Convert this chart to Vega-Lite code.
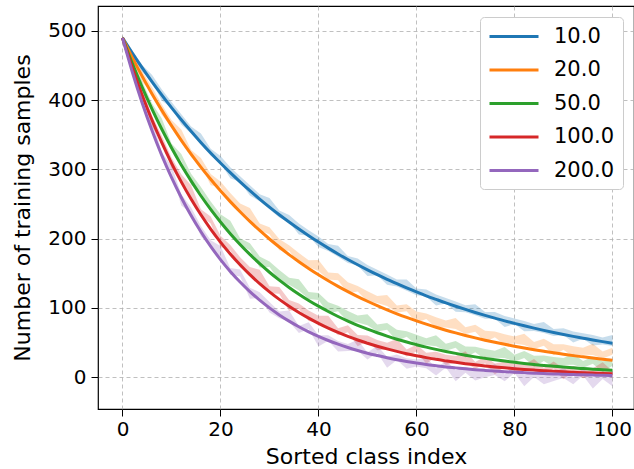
{
"$schema": "https://vega.github.io/schema/vega-lite/v6.json",
"width": 536, "height": 403,
"autosize": {"type": "none"},
"padding": {"left": 98, "top": 6, "right": 0, "bottom": 60},
"config": {
  "font": "DejaVu Sans",
  "view": {"stroke": "#000", "strokeWidth": 1.2},
  "axis": {"grid": true, "gridDash": [4, 3], "gridColor": "#b0b0b0", "gridWidth": 0.8, "domain": false, "tickColor": "#000", "tickSize": 7, "labelFontSize": 20, "labelColor": "#000", "titleFontSize": 22, "titleFontWeight": "normal", "titleColor": "#000"}
},
"data": {"values": [
{"s":"10.0","x":0,"y":490,"lo":487,"hi":493},
{"s":"10.0","x":2,"y":467.9,"lo":463.9,"hi":471.9},
{"s":"10.0","x":4,"y":446.9,"lo":440.9,"hi":450.9},
{"s":"10.0","x":6,"y":426.8,"lo":426.8,"hi":436.8},
{"s":"10.0","x":8,"y":407.6,"lo":399.6,"hi":415.6},
{"s":"10.0","x":10,"y":389.2,"lo":389.2,"hi":397.2},
{"s":"10.0","x":12,"y":371.7,"lo":364.7,"hi":379.7},
{"s":"10.0","x":14,"y":355.0,"lo":352,"hi":362},
{"s":"10.0","x":16,"y":339.0,"lo":336,"hi":352},
{"s":"10.0","x":18,"y":323.7,"lo":319.7,"hi":329.7},
{"s":"10.0","x":20,"y":309.2,"lo":309.2,"hi":319.2},
{"s":"10.0","x":22,"y":295.3,"lo":287.3,"hi":303.3},
{"s":"10.0","x":24,"y":282.0,"lo":282,"hi":290},
{"s":"10.0","x":26,"y":269.3,"lo":262.3,"hi":277.3},
{"s":"10.0","x":28,"y":257.2,"lo":254.2,"hi":264.2},
{"s":"10.0","x":30,"y":245.6,"lo":242.6,"hi":258.6},
{"s":"10.0","x":32,"y":234.5,"lo":230.5,"hi":240.5},
{"s":"10.0","x":34,"y":224.0,"lo":224,"hi":234},
{"s":"10.0","x":36,"y":213.9,"lo":205.9,"hi":221.9},
{"s":"10.0","x":38,"y":204.3,"lo":204.3,"hi":212.3},
{"s":"10.0","x":40,"y":195.1,"lo":188.1,"hi":203.1},
{"s":"10.0","x":42,"y":186.3,"lo":182.3,"hi":192.3},
{"s":"10.0","x":44,"y":177.9,"lo":173.9,"hi":189.9},
{"s":"10.0","x":46,"y":169.9,"lo":164.9,"hi":174.9},
{"s":"10.0","x":48,"y":162.3,"lo":161.3,"hi":171.3},
{"s":"10.0","x":50,"y":155.0,"lo":146,"hi":162},
{"s":"10.0","x":52,"y":148.0,"lo":147,"hi":155},
{"s":"10.0","x":54,"y":141.3,"lo":133.3,"hi":148.3},
{"s":"10.0","x":56,"y":135.0,"lo":131,"hi":141},
{"s":"10.0","x":58,"y":128.9,"lo":124.9,"hi":140.9},
{"s":"10.0","x":60,"y":123.1,"lo":118.1,"hi":128.1},
{"s":"10.0","x":62,"y":117.5,"lo":116.5,"hi":126.5},
{"s":"10.0","x":64,"y":112.3,"lo":103.3,"hi":119.3},
{"s":"10.0","x":66,"y":107.2,"lo":106.2,"hi":114.2},
{"s":"10.0","x":68,"y":102.4,"lo":94.4,"hi":109.4},
{"s":"10.0","x":70,"y":97.8,"lo":93.8,"hi":103.8},
{"s":"10.0","x":72,"y":93.4,"lo":89.4,"hi":105.4},
{"s":"10.0","x":74,"y":89.2,"lo":84.2,"hi":94.2},
{"s":"10.0","x":76,"y":85.2,"lo":84.2,"hi":94.2},
{"s":"10.0","x":78,"y":81.3,"lo":72.3,"hi":88.3},
{"s":"10.0","x":80,"y":77.7,"lo":76.7,"hi":84.7},
{"s":"10.0","x":82,"y":74.2,"lo":66.2,"hi":81.2},
{"s":"10.0","x":84,"y":70.8,"lo":66.8,"hi":76.8},
{"s":"10.0","x":86,"y":67.6,"lo":63.6,"hi":79.6},
{"s":"10.0","x":88,"y":64.6,"lo":59.6,"hi":69.6},
{"s":"10.0","x":90,"y":61.7,"lo":60.7,"hi":70.7},
{"s":"10.0","x":92,"y":58.9,"lo":49.9,"hi":65.9},
{"s":"10.0","x":94,"y":56.3,"lo":55.3,"hi":63.3},
{"s":"10.0","x":96,"y":53.7,"lo":45.7,"hi":60.7},
{"s":"10.0","x":98,"y":51.3,"lo":47.3,"hi":57.3},
{"s":"10.0","x":100,"y":49.0,"lo":45,"hi":61},
{"s":"20.0","x":0,"y":490,"lo":487,"hi":493},
{"s":"20.0","x":2,"y":461.5,"lo":457.5,"hi":465.5},
{"s":"20.0","x":4,"y":434.7,"lo":426.2,"hi":442.2},
{"s":"20.0","x":6,"y":409.4,"lo":410.9,"hi":418.9},
{"s":"20.0","x":8,"y":385.6,"lo":379.1,"hi":394.1},
{"s":"20.0","x":10,"y":363.2,"lo":361.2,"hi":371.2},
{"s":"20.0","x":12,"y":342.0,"lo":341.5,"hi":357.5},
{"s":"20.0","x":14,"y":322.1,"lo":318.1,"hi":328.1},
{"s":"20.0","x":16,"y":303.4,"lo":306.4,"hi":316.4},
{"s":"20.0","x":18,"y":285.8,"lo":277.3,"hi":293.3},
{"s":"20.0","x":20,"y":269.1,"lo":274.6,"hi":282.6},
{"s":"20.0","x":22,"y":253.5,"lo":251,"hi":266},
{"s":"20.0","x":24,"y":238.8,"lo":240.8,"hi":250.8},
{"s":"20.0","x":26,"y":224.9,"lo":228.4,"hi":244.4},
{"s":"20.0","x":28,"y":211.8,"lo":211.8,"hi":221.8},
{"s":"20.0","x":30,"y":199.5,"lo":206.5,"hi":216.5},
{"s":"20.0","x":32,"y":187.9,"lo":183.4,"hi":199.4},
{"s":"20.0","x":34,"y":176.9,"lo":182.4,"hi":190.4},
{"s":"20.0","x":36,"y":166.7,"lo":164.2,"hi":179.2},
{"s":"20.0","x":38,"y":157.0,"lo":159,"hi":169},
{"s":"20.0","x":40,"y":147.8,"lo":153.3,"hi":169.3},
{"s":"20.0","x":42,"y":139.2,"lo":141.2,"hi":151.2},
{"s":"20.0","x":44,"y":131.1,"lo":140.1,"hi":150.1},
{"s":"20.0","x":46,"y":123.5,"lo":121,"hi":137},
{"s":"20.0","x":48,"y":116.3,"lo":123.8,"hi":131.8},
{"s":"20.0","x":50,"y":109.6,"lo":109.1,"hi":124.1},
{"s":"20.0","x":52,"y":103.2,"lo":107.2,"hi":117.2},
{"s":"20.0","x":54,"y":97.2,"lo":102.7,"hi":118.7},
{"s":"20.0","x":56,"y":91.5,"lo":93.5,"hi":103.5},
{"s":"20.0","x":58,"y":86.2,"lo":95.2,"hi":105.2},
{"s":"20.0","x":60,"y":81.2,"lo":78.7,"hi":94.7},
{"s":"20.0","x":62,"y":76.5,"lo":84,"hi":92},
{"s":"20.0","x":64,"y":72.0,"lo":71.5,"hi":86.5},
{"s":"20.0","x":66,"y":67.8,"lo":71.8,"hi":81.8},
{"s":"20.0","x":68,"y":63.9,"lo":69.4,"hi":85.4},
{"s":"20.0","x":70,"y":60.2,"lo":62.2,"hi":72.2},
{"s":"20.0","x":72,"y":56.7,"lo":65.7,"hi":75.7},
{"s":"20.0","x":74,"y":53.4,"lo":50.9,"hi":66.9},
{"s":"20.0","x":76,"y":50.3,"lo":57.8,"hi":65.8},
{"s":"20.0","x":78,"y":47.4,"lo":46.9,"hi":61.9},
{"s":"20.0","x":80,"y":44.6,"lo":48.6,"hi":58.6},
{"s":"20.0","x":82,"y":42.0,"lo":46.5,"hi":62.5},
{"s":"20.0","x":84,"y":39.6,"lo":40.6,"hi":50.6},
{"s":"20.0","x":86,"y":37.3,"lo":45.3,"hi":55.3},
{"s":"20.0","x":88,"y":35.1,"lo":31.6,"hi":47.6},
{"s":"20.0","x":90,"y":33.1,"lo":39.6,"hi":47.6},
{"s":"20.0","x":92,"y":31.1,"lo":29.6,"hi":44.6},
{"s":"20.0","x":94,"y":29.3,"lo":32.3,"hi":42.3},
{"s":"20.0","x":96,"y":27.6,"lo":32.1,"hi":48.1},
{"s":"20.0","x":98,"y":26.0,"lo":27,"hi":37},
{"s":"20.0","x":100,"y":24.5,"lo":32.5,"hi":42.5},
{"s":"50.0","x":0,"y":490,"lo":487,"hi":493},
{"s":"50.0","x":2,"y":453.1,"lo":449.1,"hi":457.1},
{"s":"50.0","x":4,"y":419.0,"lo":412.5,"hi":427.5},
{"s":"50.0","x":6,"y":387.5,"lo":385.5,"hi":395.5},
{"s":"50.0","x":8,"y":358.3,"lo":357.8,"hi":373.8},
{"s":"50.0","x":10,"y":331.4,"lo":327.4,"hi":337.4},
{"s":"50.0","x":12,"y":306.4,"lo":312.4,"hi":322.4},
{"s":"50.0","x":14,"y":283.4,"lo":277.9,"hi":293.9},
{"s":"50.0","x":16,"y":262.0,"lo":266.5,"hi":274.5},
{"s":"50.0","x":18,"y":242.3,"lo":238.8,"hi":253.8},
{"s":"50.0","x":20,"y":224.1,"lo":225.1,"hi":235.1},
{"s":"50.0","x":22,"y":207.2,"lo":209.7,"hi":225.7},
{"s":"50.0","x":24,"y":191.6,"lo":190.6,"hi":200.6},
{"s":"50.0","x":26,"y":177.2,"lo":183.2,"hi":193.2},
{"s":"50.0","x":28,"y":163.9,"lo":158.4,"hi":174.4},
{"s":"50.0","x":30,"y":151.5,"lo":159,"hi":167},
{"s":"50.0","x":32,"y":140.1,"lo":139.6,"hi":154.6},
{"s":"50.0","x":34,"y":129.6,"lo":133.6,"hi":143.6},
{"s":"50.0","x":36,"y":119.8,"lo":125.3,"hi":141.3},
{"s":"50.0","x":38,"y":110.8,"lo":112.8,"hi":122.8},
{"s":"50.0","x":40,"y":102.5,"lo":111.5,"hi":121.5},
{"s":"50.0","x":42,"y":94.8,"lo":92.3,"hi":108.3},
{"s":"50.0","x":44,"y":87.6,"lo":95.1,"hi":103.1},
{"s":"50.0","x":46,"y":81.0,"lo":80.5,"hi":95.5},
{"s":"50.0","x":48,"y":74.9,"lo":78.9,"hi":88.9},
{"s":"50.0","x":50,"y":69.3,"lo":74.8,"hi":90.8},
{"s":"50.0","x":52,"y":64.1,"lo":66.1,"hi":76.1},
{"s":"50.0","x":54,"y":59.3,"lo":68.3,"hi":78.3},
{"s":"50.0","x":56,"y":54.8,"lo":52.3,"hi":68.3},
{"s":"50.0","x":58,"y":50.7,"lo":58.2,"hi":66.2},
{"s":"50.0","x":60,"y":46.9,"lo":46.4,"hi":61.4},
{"s":"50.0","x":62,"y":43.3,"lo":46.3,"hi":56.3},
{"s":"50.0","x":64,"y":40.1,"lo":44.6,"hi":60.6},
{"s":"50.0","x":66,"y":37.1,"lo":38.1,"hi":48.1},
{"s":"50.0","x":68,"y":34.3,"lo":42.3,"hi":52.3},
{"s":"50.0","x":70,"y":31.7,"lo":28.2,"hi":44.2},
{"s":"50.0","x":72,"y":29.3,"lo":35.8,"hi":43.8},
{"s":"50.0","x":74,"y":27.1,"lo":25.6,"hi":40.6},
{"s":"50.0","x":76,"y":25.1,"lo":28.1,"hi":38.1},
{"s":"50.0","x":78,"y":23.2,"lo":27.7,"hi":43.7},
{"s":"50.0","x":80,"y":21.4,"lo":22.4,"hi":32.4},
{"s":"50.0","x":82,"y":19.8,"lo":27.8,"hi":37.8},
{"s":"50.0","x":84,"y":18.3,"lo":14.8,"hi":30.8},
{"s":"50.0","x":86,"y":16.9,"lo":23.4,"hi":31.4},
{"s":"50.0","x":88,"y":15.7,"lo":14.2,"hi":29.2},
{"s":"50.0","x":90,"y":14.5,"lo":17.5,"hi":27.5},
{"s":"50.0","x":92,"y":13.4,"lo":17.9,"hi":33.9},
{"s":"50.0","x":94,"y":12.4,"lo":13.4,"hi":23.4},
{"s":"50.0","x":96,"y":11.5,"lo":19.5,"hi":29.5},
{"s":"50.0","x":98,"y":10.6,"lo":7.1,"hi":23.1},
{"s":"50.0","x":100,"y":9.8,"lo":16.3,"hi":24.3},
{"s":"100.0","x":0,"y":490,"lo":487,"hi":493},
{"s":"100.0","x":2,"y":446.9,"lo":442.9,"hi":450.9},
{"s":"100.0","x":4,"y":407.6,"lo":402.6,"hi":418.6},
{"s":"100.0","x":6,"y":371.7,"lo":361.7,"hi":377.7},
{"s":"100.0","x":8,"y":339.0,"lo":341,"hi":349},
{"s":"100.0","x":10,"y":309.2,"lo":302.2,"hi":317.2},
{"s":"100.0","x":12,"y":282.0,"lo":283,"hi":293},
{"s":"100.0","x":14,"y":257.2,"lo":261.2,"hi":277.2},
{"s":"100.0","x":16,"y":234.5,"lo":232.5,"hi":242.5},
{"s":"100.0","x":18,"y":213.9,"lo":221.9,"hi":231.9},
{"s":"100.0","x":20,"y":195.1,"lo":188.1,"hi":204.1},
{"s":"100.0","x":22,"y":177.9,"lo":182.9,"hi":190.9},
{"s":"100.0","x":24,"y":162.3,"lo":158.3,"hi":173.3},
{"s":"100.0","x":26,"y":148.0,"lo":149,"hi":159},
{"s":"100.0","x":28,"y":135.0,"lo":139,"hi":155},
{"s":"100.0","x":30,"y":123.1,"lo":121.1,"hi":131.1},
{"s":"100.0","x":32,"y":112.3,"lo":120.3,"hi":130.3},
{"s":"100.0","x":34,"y":102.4,"lo":95.4,"hi":111.4},
{"s":"100.0","x":36,"y":93.4,"lo":98.4,"hi":106.4},
{"s":"100.0","x":38,"y":85.2,"lo":81.2,"hi":96.2},
{"s":"100.0","x":40,"y":77.7,"lo":78.7,"hi":88.7},
{"s":"100.0","x":42,"y":70.8,"lo":72.8,"hi":88.8},
{"s":"100.0","x":44,"y":64.6,"lo":60.6,"hi":70.6},
{"s":"100.0","x":46,"y":58.9,"lo":64.9,"hi":74.9},
{"s":"100.0","x":48,"y":53.7,"lo":44.7,"hi":60.7},
{"s":"100.0","x":50,"y":49.0,"lo":52,"hi":60},
{"s":"100.0","x":52,"y":44.7,"lo":38.7,"hi":53.7},
{"s":"100.0","x":54,"y":40.8,"lo":39.8,"hi":49.8},
{"s":"100.0","x":56,"y":37.2,"lo":39.2,"hi":55.2},
{"s":"100.0","x":58,"y":33.9,"lo":29.9,"hi":39.9},
{"s":"100.0","x":60,"y":30.9,"lo":36.9,"hi":46.9},
{"s":"100.0","x":62,"y":28.2,"lo":19.2,"hi":35.2},
{"s":"100.0","x":64,"y":25.7,"lo":28.7,"hi":36.7},
{"s":"100.0","x":66,"y":23.5,"lo":17.5,"hi":32.5},
{"s":"100.0","x":68,"y":21.4,"lo":20.4,"hi":30.4},
{"s":"100.0","x":70,"y":19.5,"lo":21.5,"hi":37.5},
{"s":"100.0","x":72,"y":17.8,"lo":11.8,"hi":21.8},
{"s":"100.0","x":74,"y":16.2,"lo":20.2,"hi":30.2},
{"s":"100.0","x":76,"y":14.8,"lo":3.8,"hi":19.8},
{"s":"100.0","x":78,"y":13.5,"lo":14.5,"hi":22.5},
{"s":"100.0","x":80,"y":12.3,"lo":4.3,"hi":19.3},
{"s":"100.0","x":82,"y":11.2,"lo":8.2,"hi":18.2},
{"s":"100.0","x":84,"y":10.2,"lo":10.2,"hi":26.2},
{"s":"100.0","x":86,"y":9.3,"lo":3.3,"hi":13.3},
{"s":"100.0","x":88,"y":8.5,"lo":12.5,"hi":22.5},
{"s":"100.0","x":90,"y":7.8,"lo":-3.2,"hi":12.8},
{"s":"100.0","x":92,"y":7.1,"lo":8.1,"hi":16.1},
{"s":"100.0","x":94,"y":6.5,"lo":-1.5,"hi":13.5},
{"s":"100.0","x":96,"y":5.9,"lo":2.9,"hi":12.9},
{"s":"100.0","x":98,"y":5.4,"lo":5.4,"hi":21.4},
{"s":"100.0","x":100,"y":4.9,"lo":-1.1,"hi":8.9},
{"s":"200.0","x":0,"y":490,"lo":487,"hi":493},
{"s":"200.0","x":2,"y":440.7,"lo":436.7,"hi":444.7},
{"s":"200.0","x":4,"y":396.4,"lo":394.4,"hi":404.4},
{"s":"200.0","x":6,"y":356.6,"lo":359.1,"hi":375.1},
{"s":"200.0","x":8,"y":320.7,"lo":314.7,"hi":324.7},
{"s":"200.0","x":10,"y":288.5,"lo":295.5,"hi":305.5},
{"s":"200.0","x":12,"y":259.5,"lo":248,"hi":264},
{"s":"200.0","x":14,"y":233.4,"lo":236.9,"hi":244.9},
{"s":"200.0","x":16,"y":209.9,"lo":203.4,"hi":218.4},
{"s":"200.0","x":18,"y":188.8,"lo":187.8,"hi":197.8},
{"s":"200.0","x":20,"y":169.8,"lo":173.3,"hi":189.3},
{"s":"200.0","x":22,"y":152.7,"lo":147.7,"hi":157.7},
{"s":"200.0","x":24,"y":137.4,"lo":145.4,"hi":155.4},
{"s":"200.0","x":26,"y":123.6,"lo":113.1,"hi":129.1},
{"s":"200.0","x":28,"y":111.2,"lo":114.7,"hi":122.7},
{"s":"200.0","x":30,"y":100.0,"lo":93.5,"hi":108.5},
{"s":"200.0","x":32,"y":89.9,"lo":84.9,"hi":94.9},
{"s":"200.0","x":34,"y":80.9,"lo":80.4,"hi":96.4},
{"s":"200.0","x":36,"y":72.8,"lo":63.8,"hi":73.8},
{"s":"200.0","x":38,"y":65.4,"lo":69.4,"hi":79.4},
{"s":"200.0","x":40,"y":58.9,"lo":44.4,"hi":60.4},
{"s":"200.0","x":42,"y":52.9,"lo":52.4,"hi":60.4},
{"s":"200.0","x":44,"y":47.6,"lo":37.1,"hi":52.1},
{"s":"200.0","x":46,"y":42.8,"lo":37.8,"hi":47.8},
{"s":"200.0","x":48,"y":38.5,"lo":38,"hi":54},
{"s":"200.0","x":50,"y":34.6,"lo":25.6,"hi":35.6},
{"s":"200.0","x":52,"y":31.2,"lo":35.2,"hi":45.2},
{"s":"200.0","x":54,"y":28.0,"lo":13.5,"hi":29.5},
{"s":"200.0","x":56,"y":25.2,"lo":24.7,"hi":32.7},
{"s":"200.0","x":58,"y":22.7,"lo":12.2,"hi":27.2},
{"s":"200.0","x":60,"y":20.4,"lo":15.4,"hi":25.4},
{"s":"200.0","x":62,"y":18.3,"lo":12.8,"hi":28.8},
{"s":"200.0","x":64,"y":16.5,"lo":2.5,"hi":12.5},
{"s":"200.0","x":66,"y":14.8,"lo":13.8,"hi":23.8},
{"s":"200.0","x":68,"y":13.4,"lo":-6.1,"hi":9.9},
{"s":"200.0","x":70,"y":12.0,"lo":6.5,"hi":14.5},
{"s":"200.0","x":72,"y":10.8,"lo":-4.7,"hi":10.3},
{"s":"200.0","x":74,"y":9.7,"lo":-0.3,"hi":9.7},
{"s":"200.0","x":76,"y":8.7,"lo":3.2,"hi":19.2},
{"s":"200.0","x":78,"y":7.9,"lo":-6.1,"hi":3.9},
{"s":"200.0","x":80,"y":7.1,"lo":6.1,"hi":16.1},
{"s":"200.0","x":82,"y":6.4,"lo":-13.1,"hi":2.9},
{"s":"200.0","x":84,"y":5.7,"lo":0.2,"hi":8.2},
{"s":"200.0","x":86,"y":5.1,"lo":-10.4,"hi":4.6},
{"s":"200.0","x":88,"y":4.6,"lo":-5.4,"hi":4.6},
{"s":"200.0","x":90,"y":4.2,"lo":-1.3,"hi":14.7},
{"s":"200.0","x":92,"y":3.7,"lo":-10.3,"hi":-0.3},
{"s":"200.0","x":94,"y":3.4,"lo":2.4,"hi":12.4},
{"s":"200.0","x":96,"y":3.0,"lo":-16.5,"hi":-0.5},
{"s":"200.0","x":98,"y":2.7,"lo":-2.8,"hi":5.2},
{"s":"200.0","x":100,"y":2.5,"lo":-13,"hi":2}
]},
"encoding": {
  "x": {"field": "x", "type": "quantitative", "scale": {"domain": [-5, 104.4], "nice": false, "zero": false}, "axis": {"values": [0, 20, 40, 60, 80, 100], "title": "Sorted class index", "titlePadding": 7, "labelPadding": 3}},
  "color": {"field": "s", "type": "nominal", "scale": {"domain": ["10.0", "20.0", "50.0", "100.0", "200.0"], "range": ["#1f77b4", "#ff7f0e", "#2ca02c", "#d62728", "#9467bd"]},
    "legend": {"title": null, "orient": "none", "legendX": 382, "legendY": 11, "padding": 8, "strokeColor": "#cccccc", "fillColor": "#ffffff", "cornerRadius": 4, "symbolType": "M-1,0H3.9", "symbolSize": 400, "symbolStrokeWidth": 3, "symbolOpacity": 1, "labelFontSize": 21, "labelColor": "#000", "labelOffset": 43, "rowPadding": 11.5}}
},
"layer": [
  {"mark": {"type": "area", "opacity": 0.25, "interpolate": "linear"},
   "encoding": {
     "y": {"field": "lo", "type": "quantitative", "scale": {"domain": [-46, 536], "nice": false, "zero": false}, "axis": {"values": [0, 100, 200, 300, 400, 500], "title": "Number of training samples", "titlePadding": 13, "labelPadding": 5}},
     "y2": {"field": "hi"}
   }},
  {"mark": {"type": "line", "strokeWidth": 3, "interpolate": "monotone"},
   "encoding": {
     "y": {"field": "y", "type": "quantitative"}
   }}
]
}
